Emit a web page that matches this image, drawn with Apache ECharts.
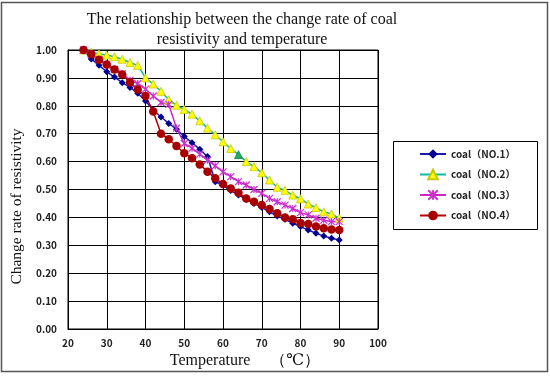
<!DOCTYPE html>
<html>
<head>
<meta charset="utf-8">
<script src="https://cdn.jsdelivr.net/npm/echarts@6/dist/echarts.min.js"></script>
<style>
html,body{margin:0;padding:0;background:#fff;}
#c{width:550px;height:376px;}
</style>
</head>
<body>
<div id="c"></div>
<script>
var temps = [24,26,28,30,32,34,36,38,40,42,44,46,48,50,52,54,56,58,60,62,64,66,68,70,72,74,76,78,80,82,84,86,88,90];
var coal1 = [1.00,0.968,0.945,0.922,0.903,0.883,0.866,0.845,0.817,0.785,0.760,0.737,0.716,0.690,0.668,0.644,0.618,0.528,0.516,0.496,0.480,0.465,0.450,0.436,0.420,0.405,0.393,0.379,0.367,0.355,0.343,0.333,0.325,0.319];
var coal2 = [1.00,0.992,0.986,0.982,0.976,0.967,0.955,0.945,0.900,0.878,0.852,0.822,0.802,0.787,0.770,0.746,0.720,0.696,0.671,0.647,0.625,0.600,0.582,0.560,0.534,0.508,0.497,0.480,0.467,0.448,0.435,0.420,0.412,0.397];
var coal3 = [1.00,0.985,0.965,0.946,0.930,0.915,0.892,0.880,0.860,0.835,0.812,0.805,0.720,0.665,0.648,0.627,0.605,0.585,0.563,0.546,0.528,0.516,0.500,0.486,0.468,0.456,0.444,0.432,0.417,0.409,0.397,0.390,0.385,0.385];
var coal4 = [1.00,0.985,0.965,0.948,0.930,0.912,0.884,0.858,0.835,0.780,0.700,0.680,0.656,0.630,0.612,0.590,0.564,0.540,0.520,0.504,0.488,0.468,0.456,0.444,0.430,0.415,0.400,0.393,0.380,0.376,0.367,0.361,0.357,0.355];
var seriesNames = ['coal（NO.1）','coal（NO.2）','coal（NO.3）','coal（NO.4）'];
var titleText = 'The relationship between the change rate of coal\nresistivity and temperature';
var xName = 'Temperature　 （℃）';
var yName = 'Change rate of resistivity';

function pairs(arr){ return temps.map(function(t,i){ return [t, arr[i]]; }); }
var greenData = pairs(coal2).map(function(p){
  if (p[0] === 64) return {value: p, itemStyle: {color: '#22AA66', borderColor: '#118844'}};
  return p;
});

var chart = echarts.init(document.getElementById('c'), null, {renderer: 'canvas'});
var serif = '"Liberation Serif","DejaVu Serif",serif';
var tickFont = {fontFamily: '"Noto Sans CJK SC","DejaVu Sans",sans-serif', fontWeight: 'bold', fontSize: 10, color: '#222'};
chart.setOption({
  animation: false,
  backgroundColor: '#fff',
  graphic: [
    {type: 'rect', shape: {x: 1.5, y: 2.5, width: 546, height: 369}, style: {fill: 'none', stroke: '#555', lineWidth: 1.5}, z: -1},
    {type: 'rect', shape: {x: 393.5, y: 141.5, width: 144, height: 88}, style: {fill: '#fff', stroke: '#000', lineWidth: 1}, z: 0}
  ],
  title: {
    text: titleText,
    left: 237, top: 5, textAlign: 'center',
    textStyle: {fontFamily: serif, fontSize: 16, fontWeight: 'normal', color: '#111', lineHeight: 20}
  },
  legend: {
    orient: 'vertical',
    left: 419, top: 148,
    itemWidth: 26, itemHeight: 12, itemGap: 8.5,
    padding: 0,
    textStyle: {fontFamily: '"Noto Sans CJK SC","DejaVu Sans",sans-serif', fontWeight: 'bold', fontSize: 10, color: '#222', lineHeight: 12},
    data: seriesNames,
    z: 5
  },
  grid: {left: 68, right: 172, top: 50, bottom: 47, show: true, borderColor: '#000', borderWidth: 1},
  xAxis: {
    type: 'value', min: 20, max: 100, interval: 10,
    name: xName, nameLocation: 'middle', nameGap: 24,
    nameTextStyle: {fontFamily: serif, fontSize: 16, color: '#111', padding: [0, 0, 0, 44]},
    axisLine: {lineStyle: {color: '#000', width: 1}},
    axisTick: {show: false},
    axisLabel: Object.assign({margin: 9}, tickFont),
    splitLine: {show: true, lineStyle: {color: '#000', width: 1}}
  },
  yAxis: {
    type: 'value', min: 0, max: 1, interval: 0.1,
    name: yName, nameLocation: 'middle', nameGap: 42,
    nameTextStyle: {fontFamily: serif, fontSize: 15.5, color: '#111', padding: [0, 34, 0, 0]},
    axisLine: {show: true, lineStyle: {color: '#000', width: 1}},
    axisTick: {show: false},
    axisLabel: Object.assign({margin: 11, formatter: function(v){ return v.toFixed(2); }}, tickFont),
    splitLine: {show: true, lineStyle: {color: '#000', width: 1}}
  },
  series: [
    {name: seriesNames[0], type: 'line', data: pairs(coal1), symbol: 'diamond', symbolSize: 7,
     lineStyle: {color: '#1A1AB0', width: 1.5}, itemStyle: {color: '#000090'}},
    {name: seriesNames[1], type: 'line', data: greenData, symbol: 'triangle', symbolSize: 8,
     lineStyle: {color: '#10B8A0', width: 1.5}, itemStyle: {color: '#FFFF00', borderColor: '#C8C800', borderWidth: 0.8}},
    {name: seriesNames[2], type: 'line', data: pairs(coal3), symbol: 'path://M0,0L10,10M10,0L0,10M5,0L5,10', symbolSize: 7,
     lineStyle: {color: '#CC22CC', width: 1.5}, itemStyle: {color: '#CC33CC', borderColor: '#CC33CC', borderWidth: 1.2}},
    {name: seriesNames[3], type: 'line', data: pairs(coal4), symbol: 'circle', symbolSize: 8.5,
     lineStyle: {color: '#B00000', width: 1.5}, itemStyle: {color: '#A80000'}}
  ]
});
</script>
</body>
</html>
